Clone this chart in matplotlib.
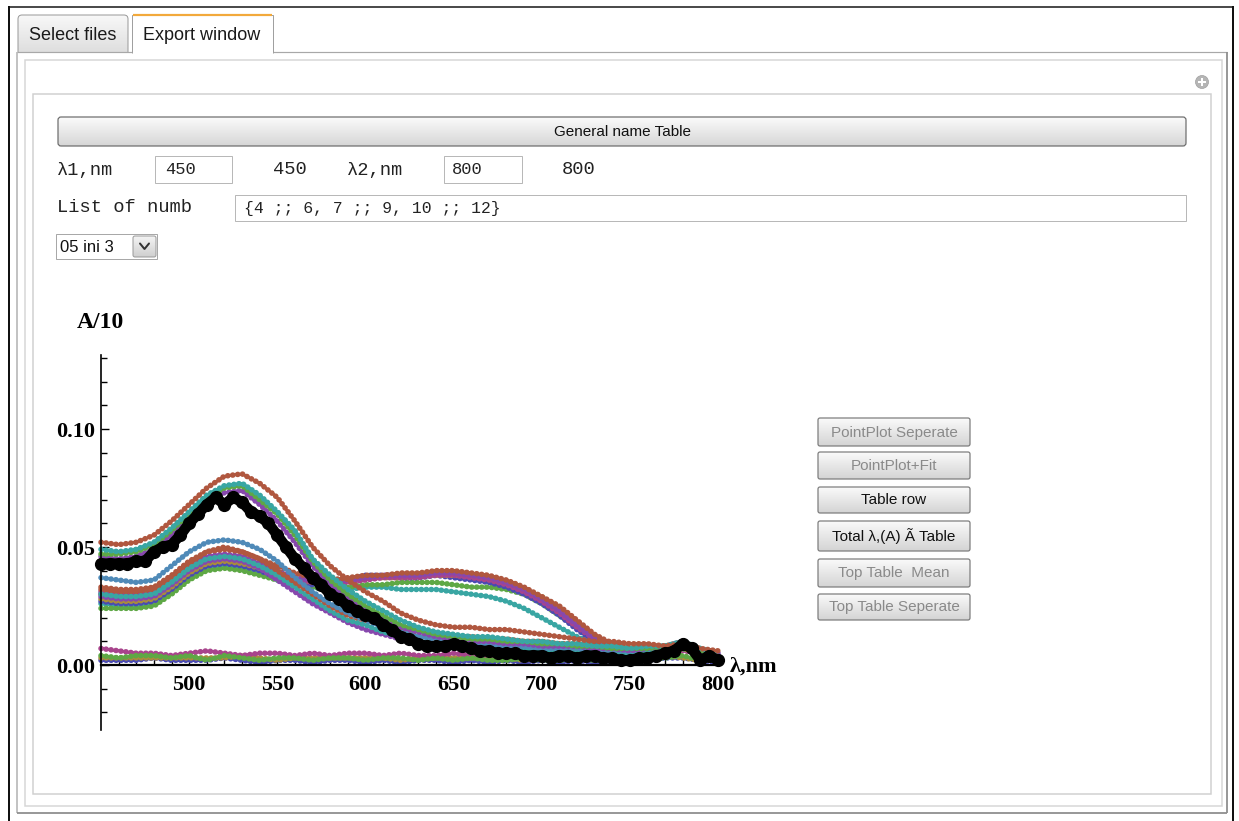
import numpy as np
import matplotlib
matplotlib.use('Agg')
import matplotlib.pyplot as plt
from matplotlib.patches import FancyBboxPatch, Rectangle, Circle, Polygon
from matplotlib.colors import to_rgb

W, H = 1239, 821

# ------------------------------------------------------------------ data
wavelength = list(range(450, 801, 10))
wavelength_fine = list(range(450, 801, 5))

mean_curve = [0.043, 0.043, 0.043, 0.043, 0.044, 0.044, 0.048, 0.050, 0.051, 0.055,
              0.060, 0.064, 0.068, 0.071, 0.068, 0.071, 0.069, 0.065, 0.063, 0.060,
              0.055, 0.050, 0.045, 0.041, 0.037, 0.034, 0.030, 0.028, 0.025, 0.023,
              0.021, 0.020, 0.017, 0.015, 0.012, 0.011, 0.009, 0.008, 0.008, 0.008,
              0.009, 0.008, 0.007, 0.006, 0.006, 0.005, 0.005, 0.005, 0.004, 0.004,
              0.004, 0.003, 0.004, 0.004, 0.003, 0.004, 0.004, 0.003, 0.003, 0.002,
              0.002, 0.003, 0.003, 0.004, 0.005, 0.006, 0.009, 0.007, 0.002, 0.004,
              0.002]

high_brown = [0.052, 0.051, 0.052, 0.055, 0.061, 0.068, 0.075, 0.080, 0.081, 0.077, 0.071, 0.061,
              0.050, 0.042, 0.036, 0.031, 0.027, 0.022, 0.019, 0.017, 0.016, 0.016, 0.015, 0.015,
              0.014, 0.013, 0.012, 0.011, 0.010, 0.010, 0.009, 0.009, 0.008, 0.009, 0.007, 0.006]
high_teal = [0.049, 0.048, 0.049, 0.052, 0.058, 0.065, 0.072, 0.076, 0.077, 0.072, 0.065, 0.057,
             0.045, 0.038, 0.032, 0.027, 0.023, 0.019, 0.016, 0.014, 0.013, 0.012, 0.012, 0.011,
             0.010, 0.010, 0.009, 0.009, 0.008, 0.008, 0.007, 0.008, 0.008, 0.010, 0.007, 0.005]
high_green = [0.047, 0.047, 0.048, 0.051, 0.057, 0.064, 0.071, 0.075, 0.076, 0.070, 0.064, 0.055,
              0.044, 0.036, 0.030, 0.025, 0.021, 0.017, 0.015, 0.013, 0.012, 0.011, 0.011, 0.010,
              0.010, 0.009, 0.009, 0.008, 0.008, 0.007, 0.007, 0.007, 0.008, 0.009, 0.006, 0.004]
high_purple = [0.046, 0.045, 0.046, 0.049, 0.055, 0.062, 0.069, 0.073, 0.074, 0.068, 0.061, 0.052,
               0.042, 0.034, 0.028, 0.024, 0.020, 0.016, 0.014, 0.012, 0.011, 0.010, 0.010, 0.009,
               0.009, 0.008, 0.008, 0.008, 0.007, 0.007, 0.006, 0.007, 0.008, 0.009, 0.006, 0.004]

decline_steel = [0.037, 0.036, 0.035, 0.036, 0.042, 0.048, 0.052, 0.053, 0.052, 0.049, 0.044, 0.037,
                 0.031, 0.026, 0.022, 0.019, 0.016, 0.014, 0.012, 0.011, 0.010, 0.009, 0.009, 0.008,
                 0.008, 0.007, 0.007, 0.007, 0.006, 0.006, 0.006, 0.007, 0.008, 0.010, 0.006, 0.004]
decline_brown = [0.033, 0.032, 0.032, 0.033, 0.038, 0.044, 0.048, 0.049, 0.048, 0.045, 0.040, 0.035,
                 0.030, 0.025, 0.021, 0.019, 0.017, 0.015, 0.014, 0.013, 0.012, 0.012, 0.011, 0.011,
                 0.010, 0.010, 0.009, 0.009, 0.008, 0.008, 0.007, 0.008, 0.008, 0.010, 0.006, 0.004]
decline_teal = [0.030, 0.029, 0.029, 0.030, 0.035, 0.041, 0.045, 0.046, 0.045, 0.042, 0.038, 0.033,
                0.028, 0.023, 0.019, 0.017, 0.014, 0.012, 0.010, 0.009, 0.009, 0.008, 0.008, 0.007,
                0.007, 0.006, 0.006, 0.006, 0.005, 0.005, 0.005, 0.006, 0.007, 0.009, 0.005, 0.003]
decline_purple = [0.029, 0.028, 0.028, 0.029, 0.034, 0.040, 0.044, 0.045, 0.044, 0.041, 0.036, 0.031,
                  0.026, 0.022, 0.018, 0.015, 0.013, 0.011, 0.009, 0.008, 0.007, 0.007, 0.006, 0.006,
                  0.006, 0.005, 0.005, 0.005, 0.005, 0.004, 0.005, 0.006, 0.007, 0.008, 0.005, 0.003]

hump_brown = [0.032, 0.031, 0.031, 0.032, 0.037, 0.043, 0.048, 0.050, 0.048, 0.045, 0.042, 0.039,
              0.037, 0.036, 0.037, 0.038, 0.038, 0.039, 0.039, 0.040, 0.040, 0.039, 0.038, 0.036,
              0.033, 0.029, 0.025, 0.019, 0.013, 0.009, 0.007, 0.007, 0.007, 0.009, 0.006, 0.005]
hump_purple = [0.031, 0.030, 0.030, 0.031, 0.036, 0.042, 0.046, 0.047, 0.046, 0.043, 0.040, 0.037,
               0.036, 0.035, 0.036, 0.037, 0.038, 0.038, 0.038, 0.039, 0.039, 0.038, 0.037, 0.035,
               0.032, 0.028, 0.023, 0.017, 0.011, 0.008, 0.006, 0.006, 0.006, 0.008, 0.006, 0.005]
hump_green = [0.024, 0.024, 0.024, 0.025, 0.030, 0.036, 0.040, 0.041, 0.040, 0.038, 0.036, 0.034,
              0.033, 0.032, 0.033, 0.034, 0.034, 0.035, 0.035, 0.035, 0.034, 0.033, 0.033, 0.032,
              0.030, 0.026, 0.021, 0.016, 0.011, 0.008, 0.006, 0.005, 0.006, 0.007, 0.005, 0.004]
hump_olive = [0.028, 0.027, 0.027, 0.028, 0.033, 0.039, 0.043, 0.044, 0.043, 0.041, 0.038, 0.036,
              0.035, 0.035, 0.036, 0.037, 0.037, 0.037, 0.038, 0.038, 0.038, 0.038, 0.037, 0.035,
              0.032, 0.029, 0.024, 0.018, 0.012, 0.009, 0.007, 0.006, 0.006, 0.007, 0.005, 0.004]
hump_blue = [0.027, 0.026, 0.026, 0.027, 0.032, 0.038, 0.042, 0.043, 0.042, 0.040, 0.037, 0.035,
             0.034, 0.034, 0.036, 0.038, 0.038, 0.037, 0.037, 0.038, 0.037, 0.036, 0.035, 0.033,
             0.030, 0.026, 0.021, 0.015, 0.010, 0.007, 0.006, 0.005, 0.006, 0.008, 0.005, 0.004]
hump_magenta = [0.030, 0.029, 0.029, 0.030, 0.035, 0.041, 0.045, 0.046, 0.045, 0.042, 0.039, 0.036,
                0.035, 0.034, 0.035, 0.036, 0.037, 0.037, 0.037, 0.038, 0.038, 0.037, 0.036, 0.034,
                0.031, 0.027, 0.022, 0.016, 0.011, 0.008, 0.006, 0.006, 0.006, 0.008, 0.006, 0.005]
hump_teal = [0.026, 0.025, 0.025, 0.026, 0.031, 0.037, 0.041, 0.042, 0.041, 0.039, 0.036, 0.034,
             0.033, 0.032, 0.032, 0.033, 0.033, 0.032, 0.032, 0.032, 0.031, 0.030, 0.029, 0.027,
             0.024, 0.020, 0.016, 0.012, 0.009, 0.007, 0.005, 0.005, 0.006, 0.007, 0.005, 0.004]

low_magenta = [0.007, 0.006, 0.005, 0.005, 0.004, 0.005, 0.006, 0.005, 0.004, 0.005, 0.005, 0.004,
               0.005, 0.004, 0.005, 0.005, 0.004, 0.005, 0.004, 0.004, 0.005, 0.004, 0.004, 0.004,
               0.005, 0.004, 0.004, 0.004, 0.005, 0.004, 0.004, 0.005, 0.005, 0.006, 0.005, 0.004]
low_green = [0.004, 0.003, 0.004, 0.004, 0.003, 0.004, 0.002, 0.004, 0.003, 0.002, 0.003, 0.003,
             0.002, 0.003, 0.003, 0.002, 0.003, 0.003, 0.002, 0.003, 0.002, 0.003, 0.002, 0.002,
             0.003, 0.002, 0.002, 0.003, 0.002, 0.002, 0.003, 0.003, 0.003, 0.004, 0.002, 0.002]
low_blue = [0.002, 0.002, 0.002, 0.003, 0.002, 0.002, 0.002, 0.003, 0.002, 0.001, 0.002, 0.002,
            0.001, 0.002, 0.002, 0.001, 0.002, 0.001, 0.002, 0.002, 0.001, 0.002, 0.001, 0.002,
            0.001, 0.002, 0.001, 0.002, 0.001, 0.002, 0.002, 0.002, 0.003, 0.003, 0.002, 0.001]
low_olive = [0.003, 0.003, 0.003, 0.003, 0.003, 0.003, 0.003, 0.003, 0.004, 0.003, 0.002, 0.003,
             0.003, 0.003, 0.003, 0.003, 0.003, 0.002, 0.003, 0.003, 0.003, 0.003, 0.003, 0.003,
             0.002, 0.003, 0.003, 0.002, 0.003, 0.003, 0.002, 0.003, 0.004, 0.003, 0.002, 0.002]

x_ticks = [500, 550, 600, 650, 700, 750, 800]
x_tick_labels = ['500', '550', '600', '650', '700', '750', '800']
y_ticks = [0.00, 0.05, 0.10]
y_tick_labels = ['0.00', '0.05', '0.10']

right_buttons = ['PointPlot Seperate', 'PointPlot+Fit', 'Table row',
                 'Total λ,(A) Ã Table', 'Top Table  Mean', 'Top Table Seperate']
right_buttons_active = [False, False, True, True, False, False]

# ------------------------------------------------------------------ colours
C_BROWN, C_STEEL, C_GREEN = '#b0573f', '#4f8ab8', '#5ea845'
C_PURPLE, C_TEAL, C_OLIVE = '#8748ad', '#39a6a3', '#a88c3c'
C_BLUE, C_MAGENTA = '#4a4ab2', '#a8448c'

SANS = ['Liberation Sans', 'DejaVu Sans']
MONO = ['Liberation Mono', 'DejaVu Sans Mono']
SERIF = ['Liberation Serif', 'DejaVu Serif']

fig = plt.figure(figsize=(W / 100, H / 100), dpi=100)
fig.patch.set_facecolor('white')
bg = fig.add_axes([0, 0, 1, 1], zorder=0)
bg.axis('off')
PX = 0.72  # points per pixel


def grad_box(x0, y0, x1, y1, top, bottom, edge, lw=1.0, r=3, z=3):
    patch = FancyBboxPatch((x0, y0), x1 - x0, y1 - y0,
                           boxstyle=f"round,pad=0,rounding_size={r}",
                           fc='none', ec=edge, lw=lw * PX, zorder=z + 0.5)
    bg.add_patch(patch)
    g = np.linspace(0, 1, 64)[:, None, None]
    c0 = np.array(to_rgb(top))[None, None, :]
    c1 = np.array(to_rgb(bottom))[None, None, :]
    img = c0 + (c1 - c0) * g
    im = bg.imshow(img, extent=(x0, x1, y1, y0), aspect='auto', zorder=z,
                   interpolation='bilinear')
    im.set_clip_path(patch)


def rect(x0, y0, x1, y1, ec, lw=1.0, fc='none', z=3):
    bg.add_patch(Rectangle((x0, y0), x1 - x0, y1 - y0, fc=fc, ec=ec, lw=lw * PX, zorder=z))


def hline(x0, x1, y, color, lw=1.0, z=5):
    bg.plot([x0, x1], [y, y], color=color, lw=lw * PX, zorder=z, solid_capstyle='butt')


def vline(x, y0, y1, color, lw=1.0, z=5):
    bg.plot([x, x], [y0, y1], color=color, lw=lw * PX, zorder=z, solid_capstyle='butt')


# outer black window border
vline(9, 6, 830, '#111111', 2.0)
vline(1233, 6, 830, '#111111', 2.0)
hline(8, 1234, 7, '#111111', 1.5)

# tabs
grad_box(18, 15, 128, 60, '#f8f8f8', '#d9d9d9', '#9a9a9a', 1.0, r=4, z=2)
bg.text(73, 35, 'Select files', ha='center', va='center', fontsize=13,
        family=SANS, color='#1a1a1a', zorder=6)
bg.add_patch(Polygon([(132, 53), (132, 15), (273, 15), (273, 53)], closed=False,
                     fc='white', ec='#a0a0a0', lw=1.0 * PX, zorder=6))
hline(133, 272, 15, '#f2a93b', 2.2, z=7)
bg.text(202, 35, 'Export window', ha='center', va='center', fontsize=13,
        family=SANS, color='#1a1a1a', zorder=7)

# panel
bg.add_patch(Rectangle((17, 52.5), 1210, 761, fc='white', ec='none', zorder=4))
hline(17, 132, 52, '#a8a8a8', 1.2)
hline(273, 1227, 52, '#a8a8a8', 1.2)
vline(17, 52, 813, '#b0b0b0', 1.5)
vline(1227, 52, 813, '#8e8e8e', 1.8)
hline(17, 1227, 813, '#8e8e8e', 1.8)
rect(25, 60, 1222, 806, '#d6d6d6', 1.5, z=5)
rect(33, 94, 1211, 794, '#d0d0d0', 1.5, z=5)

# plus icon
bg.add_patch(Circle((1202, 82), 6.5, fc='#b5b5b5', ec='#a0a0a0', lw=0.5, zorder=6))
hline(1198, 1206, 82, 'white', 2.0, z=7)
vline(1202, 78, 86, 'white', 2.0, z=7)

# general name button
grad_box(58, 117, 1186, 146, '#fbfbfb', '#d6d6d6', '#6a6a6a', 1.2, r=3, z=6)
bg.text(622, 131.5, 'General name Table', ha='center', va='center', fontsize=11,
        family=SANS, color='#111111', zorder=8)

# row of inputs
LBL = 13.5
INP = 12.3
bg.text(57, 170, 'λ1,nm', ha='left', va='center', fontsize=LBL, family=MONO, color='#222222', zorder=8)
rect(155, 156, 232, 183, '#b8b8b8', 1.0, fc='white', z=6)
bg.text(165, 170, '450', ha='left', va='center', fontsize=INP, family=MONO, color='#222222', zorder=8)
bg.text(273, 170, '450', ha='left', va='center', fontsize=LBL, family=MONO, color='#222222', zorder=8)
bg.text(347, 170, 'λ2,nm', ha='left', va='center', fontsize=LBL, family=MONO, color='#222222', zorder=8)
rect(444, 156, 522, 183, '#b8b8b8', 1.0, fc='white', z=6)
bg.text(452, 170, '800', ha='left', va='center', fontsize=INP, family=MONO, color='#222222', zorder=8)
bg.text(562, 170, '800', ha='left', va='center', fontsize=LBL, family=MONO, color='#222222', zorder=8)

bg.text(57, 208, 'List of numb', ha='left', va='center', fontsize=LBL, family=MONO, color='#222222', zorder=8)
rect(235, 195, 1186, 221, '#b8b8b8', 1.0, fc='white', z=6)
bg.text(244, 208, '{4 ;; 6, 7 ;; 9, 10 ;; 12}', ha='left', va='center', fontsize=11.8,
        family=MONO, color='#222222', zorder=8)

# dropdown
rect(56, 234, 157, 259, '#a8a8a8', 1.0, fc='white', z=6)
bg.text(60, 247, '05 ini 3', ha='left', va='center', fontsize=12, family=SANS, color='#111111', zorder=8)
grad_box(133, 236, 156, 257, '#f4f4f4', '#cfcfcf', '#9a9a9a', 1.0, r=2, z=7)
bg.plot([140, 144.5, 149], [243.5, 249, 243.5], color='#333333', lw=2.0 * PX, zorder=9,
        solid_capstyle='round', solid_joinstyle='round')

# right-side buttons
btn_y = [(418, 446), (452, 479), (487, 513), (521, 551), (559, 587), (594, 620)]
for (y0, y1), label, active in zip(btn_y, right_buttons, right_buttons_active):
    grad_box(818, y0, 970, y1, '#fafafa', '#d4d4d4', '#7a7a7a', 1.2, r=2, z=6)
    bg.text(894, (y0 + y1) / 2 + 0.5, label, ha='center', va='center', fontsize=11,
            family=SANS, color='#111111' if active else '#8a8a8a', zorder=8)

bg.set_xlim(0, W)
bg.set_ylim(H, 0)

# ------------------------------------------------------------------ plot
ax_left, ax_right, ax_top, ax_bottom = 101, 718, 355, 730
ax = fig.add_axes([ax_left / W, (H - ax_bottom) / H, (ax_right - ax_left) / W,
                   (ax_bottom - ax_top) / H], zorder=2)
ax.set_facecolor('none')
ax.set_xlim(450, 800)
ax.set_ylim(-(ax_bottom - 665) / 2360.0, (665 - ax_top) / 2360.0)

dot = dict(linestyle=(0, (0.05, 0.85)), lw=4.0, dash_capstyle='round', clip_on=False)

series = [
    (low_blue, C_BLUE), (low_olive, C_OLIVE), (low_magenta, C_MAGENTA), (low_green, C_GREEN),
    (hump_teal, C_TEAL), (hump_green, C_GREEN), (hump_blue, C_BLUE), (hump_olive, C_OLIVE),
    (hump_magenta, C_MAGENTA), (hump_purple, C_PURPLE), (hump_brown, C_BROWN),
    (decline_purple, C_PURPLE), (decline_teal, C_TEAL), (decline_brown, C_BROWN),
    (decline_steel, C_STEEL),
    (high_purple, C_PURPLE), (high_green, C_GREEN), (high_teal, C_TEAL), (high_brown, C_BROWN),
]
for vals, col in series:
    ax.plot(wavelength, vals, color=col, **dot)

ax.plot(wavelength_fine, mean_curve, color='black', lw=7.5, solid_capstyle='round',
        solid_joinstyle='round', marker='o', ms=8.5, clip_on=False, zorder=5)

for s in ['top', 'right']:
    ax.spines[s].set_visible(False)
ax.spines['bottom'].set_position(('data', 0))
ax.spines['bottom'].set_linewidth(1.6)
ax.spines['left'].set_linewidth(1.2)

ax.set_xticks(x_ticks)
ax.set_xticklabels(x_tick_labels)
ax.set_xticks([v for v in range(460, 800, 10) if v not in x_ticks], minor=True)
ax.set_yticks(y_ticks)
ax.set_yticklabels(y_tick_labels)
ax.set_yticks([v / 100 for v in range(-2, 14) if v not in (0, 5, 10)], minor=True)
ax.tick_params(which='both', direction='in', width=1.0, color='black')
ax.tick_params(which='major', length=6)
ax.tick_params(which='minor', length=4.5)
ax.tick_params(axis='x', which='major', pad=7)
ax.tick_params(axis='y', which='major', pad=4.5)
for lab in ax.get_xticklabels() + ax.get_yticklabels():
    lab.set_family(SERIF)
    lab.set_fontweight('bold')
    lab.set_fontsize(16)

bg.text(100, 323, 'A/10', ha='center', va='center', fontsize=17, family=SERIF,
        fontweight='bold', zorder=8)
bg.text(754, 667, 'λ,nm', ha='center', va='center', fontsize=16, family=SERIF,
        fontweight='bold', zorder=8)

fig.savefig('out.png', dpi=100)
